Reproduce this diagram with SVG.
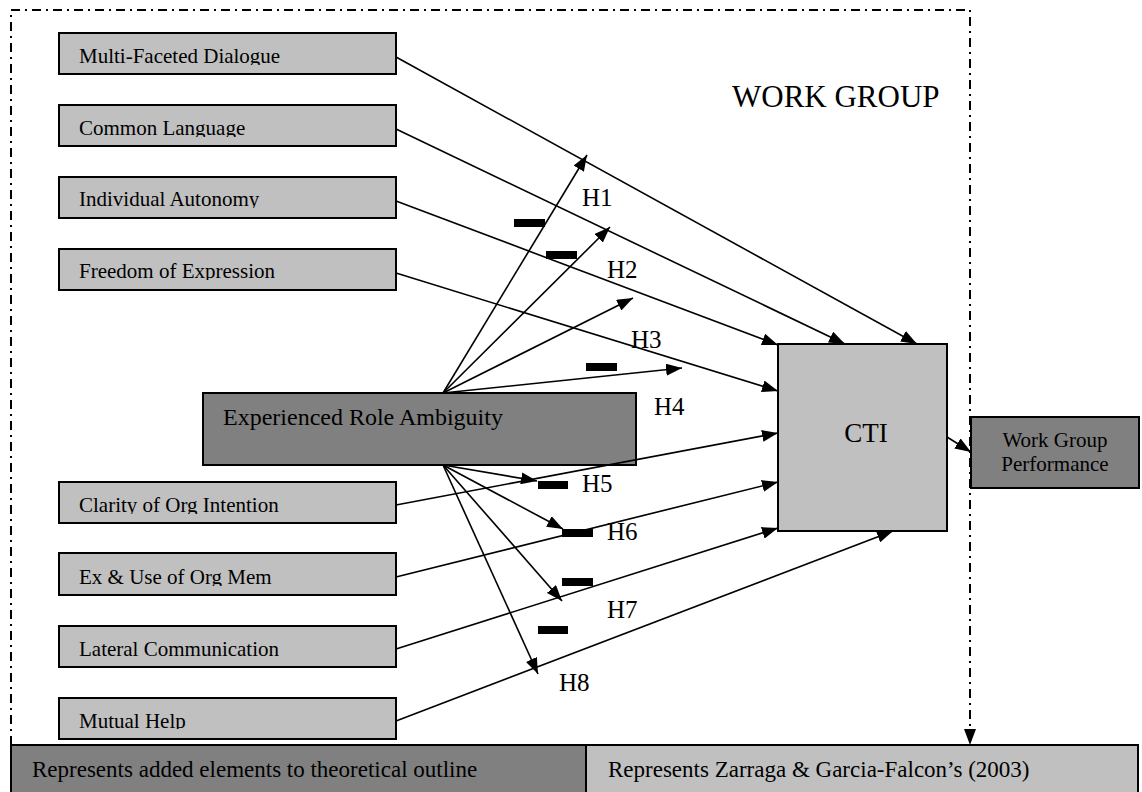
<svg xmlns="http://www.w3.org/2000/svg" width="1142" height="792" viewBox="0 0 1142 792">
<style>
  .lt { fill:#c0c0c0; stroke:#000; stroke-width:2; }
  .dk { fill:#808080; stroke:#000; stroke-width:2; }
  .t { font-family:"Liberation Serif","Times New Roman",serif; fill:#000; }
  .lbl { font-size:21px; }
  .h { font-size:25px; }
  .conn line { stroke:#000; stroke-width:1.6; marker-end:url(#ah); }
  .bar { fill:#000; }
  .border { fill:none; stroke:#000; stroke-width:2; stroke-dasharray:9 5 2 5; }
</style>
<defs>
  <marker id="ah" viewBox="0 0 16 12" refX="16" refY="6" markerWidth="16" markerHeight="12" markerUnits="userSpaceOnUse" orient="auto">
    <path d="M0,0 L16,6 L0,12 z" fill="#000"/>
  </marker>
  <clipPath id="c1"><rect x="59" y="33" width="337" height="32"/></clipPath>
  <clipPath id="c2"><rect x="59" y="105" width="337" height="32"/></clipPath>
  <clipPath id="c3"><rect x="59" y="177" width="337" height="31"/></clipPath>
  <clipPath id="c4"><rect x="59" y="249" width="337" height="31"/></clipPath>
  <clipPath id="c5"><rect x="59" y="482" width="337" height="32"/></clipPath>
  <clipPath id="c6"><rect x="59" y="553" width="337" height="33"/></clipPath>
  <clipPath id="c7"><rect x="59" y="626" width="337" height="32"/></clipPath>
  <clipPath id="c8"><rect x="59" y="698" width="337" height="31"/></clipPath>
</defs>
<rect width="1142" height="792" fill="#fff"/>

<!-- work group boundary -->
<g id="boundary">
  <path class="border" d="M11,745 L11,10 L970,10 L970,733"/>
  <line x1="970" y1="733" x2="970" y2="745" stroke="#000" stroke-width="2" stroke-dasharray="3 3" marker-end="url(#ah)"/>
  <text class="t" x="732" y="107" font-size="31">WORK GROUP</text>
</g>

<g id="n-multi"><rect class="lt" x="59" y="33" width="337" height="41"/><text class="t lbl" x="79" y="63" clip-path="url(#c1)">Multi-Faceted Dialogue</text></g>
<g id="n-common"><rect class="lt" x="59" y="105" width="337" height="41"/><text class="t lbl" x="79" y="135" clip-path="url(#c2)">Common Language</text></g>
<g id="n-autonomy"><rect class="lt" x="59" y="177" width="337" height="41"/><text class="t lbl" x="79" y="206" clip-path="url(#c3)">Individual Autonomy</text></g>
<g id="n-freedom"><rect class="lt" x="59" y="249" width="337" height="41"/><text class="t lbl" x="79" y="278" clip-path="url(#c4)">Freedom of Expression</text></g>

<g id="n-role"><rect class="dk" x="203" y="393" width="433" height="72"/><text class="t" x="223" y="425" font-size="24">Experienced Role Ambiguity</text></g>

<g id="n-clarity"><rect class="lt" x="59" y="482" width="337" height="41"/><text class="t lbl" x="79" y="512" clip-path="url(#c5)">Clarity of Org Intention</text></g>
<g id="n-exuse"><rect class="lt" x="59" y="553" width="337" height="42"/><text class="t lbl" x="79" y="584" clip-path="url(#c6)">Ex &amp; Use of Org Mem</text></g>
<g id="n-lateral"><rect class="lt" x="59" y="626" width="337" height="41"/><text class="t lbl" x="79" y="656" clip-path="url(#c7)">Lateral Communication</text></g>
<g id="n-mutual"><rect class="lt" x="59" y="698" width="337" height="41"/><text class="t lbl" x="79" y="728" clip-path="url(#c8)">Mutual Help</text></g>

<g id="n-cti"><rect class="lt" x="778" y="344" width="169" height="187"/><text class="t" x="866" y="442" font-size="27" text-anchor="middle">CTI</text></g>

<g id="n-wgp"><rect class="dk" x="971" y="417" width="168" height="71"/>
  <text class="t" x="1055" y="447" font-size="21" text-anchor="middle">Work Group</text>
  <text class="t" x="1055" y="471" font-size="21" text-anchor="middle">Performance</text>
</g>

<g id="legend">
  <rect class="dk" x="11" y="745" width="575" height="50"/>
  <text class="t" x="32" y="777" font-size="23">Represents added elements to theoretical outline</text>
  <rect class="lt" x="586" y="745" width="552" height="50"/>
  <text class="t" x="608" y="777" font-size="23">Represents Zarraga &amp; Garcia-Falcon’s (2003)</text>
</g>

<g id="connectors" class="conn">
  <!-- inputs to CTI -->
  <line x1="396" y1="57" x2="917" y2="344"/>
  <line x1="396" y1="129" x2="845" y2="344"/>
  <line x1="396" y1="201" x2="778" y2="345"/>
  <line x1="396" y1="273" x2="778" y2="391"/>
  <line x1="396" y1="505" x2="778" y2="433"/>
  <line x1="396" y1="577" x2="778" y2="482"/>
  <line x1="396" y1="649" x2="778" y2="528"/>
  <line x1="396" y1="721" x2="893" y2="531"/>
  <!-- role ambiguity moderation -->
  <line x1="443" y1="393" x2="587" y2="155"/>
  <line x1="443" y1="393" x2="610" y2="227"/>
  <line x1="443" y1="393" x2="633" y2="298"/>
  <line x1="443" y1="393" x2="682" y2="368"/>
  <line x1="443" y1="465" x2="537" y2="481"/>
  <line x1="443" y1="465" x2="563" y2="529"/>
  <line x1="443" y1="465" x2="562" y2="601"/>
  <line x1="443" y1="465" x2="538" y2="674"/>
  <!-- CTI to performance -->
  <line x1="947" y1="437" x2="971" y2="452"/>
</g>

<g id="signs">
  <rect class="bar" x="514" y="219" width="31" height="8"/>
  <rect class="bar" x="546" y="251" width="31" height="8"/>
  <rect class="bar" x="586" y="363" width="31" height="8"/>
  <rect class="bar" x="538" y="481" width="30" height="8"/>
  <rect class="bar" x="562" y="529" width="31" height="8"/>
  <rect class="bar" x="562" y="578" width="31" height="8"/>
  <rect class="bar" x="538" y="626" width="30" height="8"/>
</g>

<g id="hyp-labels">
  <text class="t h" x="582" y="206">H1</text>
  <text class="t h" x="607" y="278">H2</text>
  <text class="t h" x="631" y="348">H3</text>
  <text class="t h" x="654" y="415">H4</text>
  <text class="t h" x="582" y="492">H5</text>
  <text class="t h" x="607" y="540">H6</text>
  <text class="t h" x="607" y="618">H7</text>
  <text class="t h" x="559" y="691">H8</text>
</g>
</svg>
